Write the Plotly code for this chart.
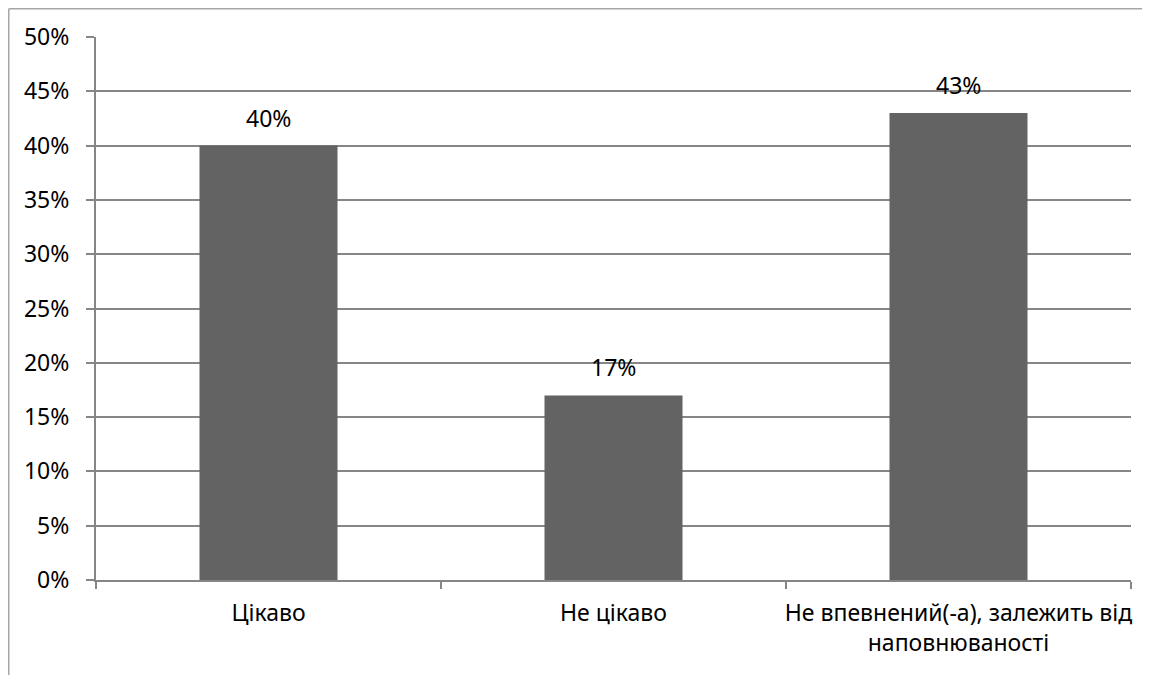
import plotly.graph_objects as go

categories = ["Цікаво", "Не цікаво", "Не впевнений(-а), залежить від<br>наповнюваності"]
values = [0.40, 0.17, 0.43]
labels = ["40%", "17%", "43%"]

# page has an 8px body margin; size the figure so the plot lands at the reference position
W, H = 1142, 667
L, R, T, B = 88, 19, 29, 95
pw, ph = W - L - R, H - T - B

fig = go.Figure(go.Bar(
    x=categories, y=values,
    marker=dict(color="#636363", line=dict(width=0)),
    width=0.4,
))

fig.update_layout(
    width=W, height=H, autosize=False,
    margin=dict(l=L, r=R, t=T, b=B),
    paper_bgcolor="white", plot_bgcolor="white",
    font=dict(family="Noto Sans, sans-serif", size=23, color="#000000"),
    showlegend=False,
    xaxis=dict(
        showgrid=False, showline=True, linecolor="#868686", linewidth=2,
        ticks="outside", ticklen=7, tickcolor="#868686", tickwidth=1.5,
        tickson="boundaries", tickfont=dict(size=23), tickangle=0,
        ticklabelstandoff=11, automargin=False,
    ),
    yaxis=dict(
        range=[0, 0.5], dtick=0.05, tickformat=".0%",
        showgrid=True, gridcolor="#868686", gridwidth=1.5,
        showline=True, linecolor="#868686", linewidth=2,
        ticks="outside", ticklen=8, tickcolor="#868686", tickwidth=1.5,
        zeroline=False, tickfont=dict(size=23),
        ticklabelstandoff=12, automargin=False,
    ),
    annotations=[
        dict(x=c, y=v, text=t, showarrow=False, xref="x", yref="y",
             yanchor="middle", yshift=28, font=dict(size=23, color="#000000"))
        for c, v, t in zip(categories, values, labels)
    ],
    shapes=[
        dict(type="line", xref="paper", yref="paper",
             x0=(0.75 - L) / pw, x1=(W + 5 - L) / pw,
             y0=(H - B - 0.75) / ph, y1=(H - B - 0.75) / ph,
             line=dict(color="#a6a6a6", width=1.5)),
        dict(type="line", xref="paper", yref="paper",
             x0=(0.75 - L) / pw, x1=(0.75 - L) / pw,
             y0=(H - B - 0.75) / ph, y1=-(B + 5) / ph,
             line=dict(color="#a6a6a6", width=1.5)),
    ],
)

fig.write_html("out.html", config={"displayModeBar": False})
